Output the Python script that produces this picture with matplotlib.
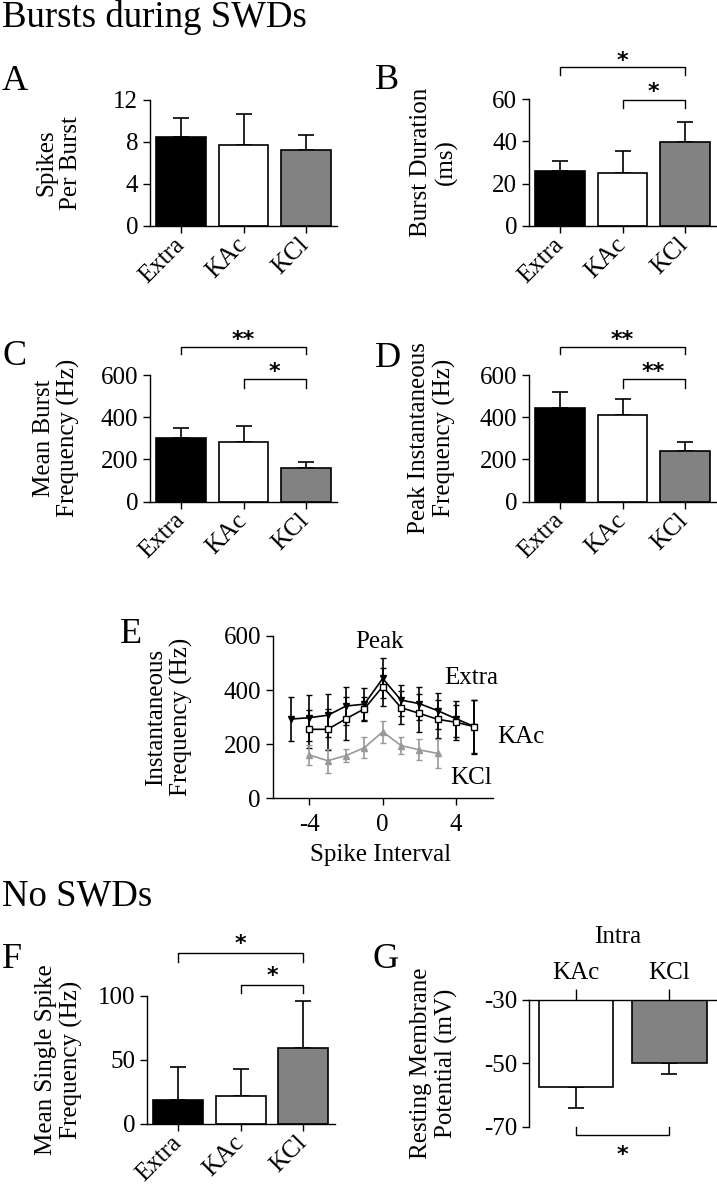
import matplotlib
matplotlib.use("Agg")
import matplotlib.pyplot as plt
import numpy as np

plt.rcParams['font.family'] = ['Liberation Serif', 'DejaVu Serif']
plt.rcParams['axes.unicode_minus'] = False

# data
cats = ["Extra", "KAc", "KCl"]
spikes_mean = [8.5, 7.7, 7.2]
spikes_err = [1.8, 3.0, 1.5]
dur_mean = [26.0, 25.0, 39.5]
dur_err = [4.7, 10.2, 9.6]
burst_freq = [303, 284, 161]
burst_freq_err = [46, 73, 28]
peak_freq = [445, 411, 242]
peak_freq_err = [73, 74, 42]
single_freq = [18.5, 22.0, 59.0]
single_freq_err = [25.8, 21.0, 37.4]
rmp_cats = ["KAc", "KCl"]
rmp_mean = [-57.4, -49.8]
rmp_err = [6.6, 3.5]

# panel E: instantaneous frequency per spike interval
ival_extra = [-5, -4, -3, -2, -1, 0, 1, 2, 3, 4, 5]
inst_extra = [293, 298, 307, 341, 348, 443, 363, 350, 324, 294, 265]
inst_extra_err = [80, 85, 79, 70, 60, 74, 57, 61, 67, 66, 98]
ival_kac = [-4, -3, -2, -1, 0, 1, 2, 3, 4, 5]
inst_kac = [255, 255, 294, 331, 413, 335, 314, 292, 281, 265]
inst_kac_err = [70, 75, 80, 45, 70, 60, 70, 70, 65, 100]
ival_kcl = [-4, -3, -2, -1, 0, 1, 2, 3]
inst_kcl = [160, 139, 158, 187, 246, 195, 179, 166]
inst_kcl_err = [37, 45, 25, 38, 40, 32, 39, 53]

bar_colors = ["black", "white", "#828282"]

FS = 18  # tick / label size

W, H = 717, 1199
fig = plt.figure(figsize=(W / 100, H / 100), dpi=100)


def add_ax(x0, y0, x1, y1):
    # pixel box -> figure fraction
    return fig.add_axes([x0 / W, 1 - y1 / H, (x1 - x0) / W, (y1 - y0) / H])


def ftext(x, y, s, **kw):
    fig.text(x / W, 1 - y / H, s, **kw)


def style(ax):
    for sp in ["top", "right"]:
        ax.spines[sp].set_visible(False)
    for sp in ["left", "bottom"]:
        ax.spines[sp].set_linewidth(1.0)
    ax.tick_params(direction="out", length=5, width=1.0, labelsize=FS)
    ax.tick_params(axis="x", pad=6)


def ylab(ax, text, lx):
    ax.set_ylabel(text, fontsize=FS, linespacing=1.15, va="center")
    ax.yaxis.set_label_coords(lx, 0.5)


def bar_panel(ax, means, errs, ylim, yticks, ylabel, lx):
    x = np.arange(len(means))
    ax.bar(x, means, width=0.8, color=bar_colors, edgecolor="black", linewidth=1.2, zorder=2)
    ax.errorbar(x, means, yerr=[np.zeros(len(errs)), errs], fmt="none",
                ecolor="black", elinewidth=1.2, capsize=6, capthick=1.2, zorder=1)
    ax.set_xlim(-0.5, 2.5)
    ax.set_ylim(*ylim)
    ax.set_yticks(yticks)
    ax.set_xticks(x)
    ax.set_xticklabels(cats, rotation=45, ha="right", va="center", rotation_mode="anchor")
    ylab(ax, ylabel, lx)
    style(ax)


def bracket(ax, x0, x1, y, yend, star, ys):
    ax.plot([x0, x0, x1, x1], [yend, y, y, yend], color="black", lw=1.0, clip_on=False)
    ax.text((x0 + x1) / 2, ys, star, ha="center", va="center", fontsize=16,
            fontweight="bold", family="DejaVu Sans", clip_on=False)


# titles and panel letters
ftext(2, 27, "Bursts during SWDs", fontsize=26.5, va="baseline")
ftext(2, 905, "No SWDs", fontsize=26.5, va="baseline")
for letter, px, py in [("A", 2, 90), ("B", 375, 89), ("C", 2, 365), ("D", 375, 367),
                       ("E", 120, 643), ("F", 2, 968), ("G", 373, 968)]:
    ftext(px, py, letter, fontsize=26, va="baseline")

# A
axA = add_ax(150, 100, 337, 226)
bar_panel(axA, spikes_mean, spikes_err, (0, 12), [0, 4, 8, 12], "Spikes\nPer Burst", -0.49)

# B
axB = add_ax(529, 99, 716, 226)
bar_panel(axB, dur_mean, dur_err, (0, 60), [0, 20, 40, 60], "Burst Duration\n(ms)", -0.51)
bracket(axB, 0, 2, 75.3, 71.3, "*", 78.0)
bracket(axB, 1, 2, 59.7, 55.7, "*", 63.5)

# C
axC = add_ax(150, 375, 337, 501.7)
bar_panel(axC, burst_freq, burst_freq_err, (0, 600), [0, 200, 400, 600],
          "Mean Burst\nFrequency (Hz)", -0.50)
bracket(axC, 0, 2, 731, 699, "**", 765)
bracket(axC, 1, 2, 580, 537, "*", 615)

# D
axD = add_ax(529, 375, 716, 501.7)
bar_panel(axD, peak_freq, peak_freq_err, (0, 600), [0, 200, 400, 600],
          "Peak Instantaneous\nFrequency (Hz)", -0.52)
bracket(axD, 0, 2, 731, 699, "**", 765)
bracket(axD, 1, 2, 580, 537, "**", 615)

# E
axE = add_ax(272.7, 636, 492.7, 798.3)
axE.errorbar(ival_extra, inst_extra, yerr=inst_extra_err, color="black", lw=1.2,
             marker="v", ms=4.5, mfc="black", mec="black", elinewidth=1.2,
             capsize=2, capthick=1.0)
axE.errorbar(ival_kac, inst_kac, yerr=inst_kac_err, color="black", lw=1.2,
             marker="s", ms=5, mfc="white", mec="black", elinewidth=1.2,
             capsize=2, capthick=1.0)
axE.errorbar(ival_kcl, inst_kcl, yerr=inst_kcl_err, color="#999999", lw=1.2,
             marker="^", ms=5, mfc="#999999", mec="#999999", elinewidth=1.2,
             capsize=2, capthick=1.0)
axE.set_xlim(-6, 6)
axE.set_ylim(0, 600)
axE.set_xticks([-4, 0, 4])
axE.set_yticks([0, 200, 400, 600])
ylab(axE, "Instantaneous\nFrequency (Hz)", -0.47)
axE.set_xlabel("Spike Interval", fontsize=FS)
axE.xaxis.set_label_coords(0.49, -0.28)
style(axE)
ftext(379, 642, "Peak", fontsize=FS, ha="center", va="center")
ftext(471, 678, "Extra", fontsize=FS, ha="center", va="center")
ftext(521, 737, "KAc", fontsize=FS, ha="center", va="center")
ftext(471, 778, "KCl", fontsize=FS, ha="center", va="center")

# F
axF = add_ax(147, 996, 334.6, 1124)
bar_panel(axF, single_freq, single_freq_err, (0, 100), [0, 50, 100],
          "Mean Single Spike\nFrequency (Hz)", -0.47)
bracket(axF, 0, 2, 133.8, 126.8, "*", 140.5)
bracket(axF, 1, 2, 108.6, 102, "*", 115.5)

# G
axG = add_ax(529.3, 1000, 716, 1126.7)
xg = np.arange(len(rmp_mean))
heights = np.array(rmp_mean) + 30
axG.bar(xg, heights, bottom=-30, width=0.8, color=["white", "#828282"],
        edgecolor="black", linewidth=1.2, zorder=2)
axG.errorbar(xg, rmp_mean, yerr=[rmp_err, np.zeros(len(rmp_err))], fmt="none",
             ecolor="black", elinewidth=1.2, capsize=6, capthick=1.2, zorder=1)
axG.set_xlim(-0.5, 1.5)
axG.set_ylim(-70, -30)
axG.set_yticks([-70, -50, -30])
axG.set_xticks(xg)
axG.set_xticklabels(rmp_cats)
axG.xaxis.tick_top()
for sp in ["bottom", "right"]:
    axG.spines[sp].set_visible(False)
for sp in ["left", "top"]:
    axG.spines[sp].set_linewidth(1.0)
axG.tick_params(direction="out", length=5, width=1.0, labelsize=FS)
axG.tick_params(axis="x", length=8)
ylab(axG, "Resting Membrane\nPotential (mV)", -0.51)
axG.plot([0, 0, 1, 1], [-70, -72.7, -72.7, -70], color="black", lw=1.0, clip_on=False)
axG.text(0.5, -79.0, "*", ha="center", va="center", fontsize=16, fontweight="bold",
         family="DejaVu Sans", clip_on=False)
axG.text(0.45, -10.1, "Intra", ha="center", va="center", fontsize=FS, clip_on=False)

fig.savefig("out.png", dpi=100)
